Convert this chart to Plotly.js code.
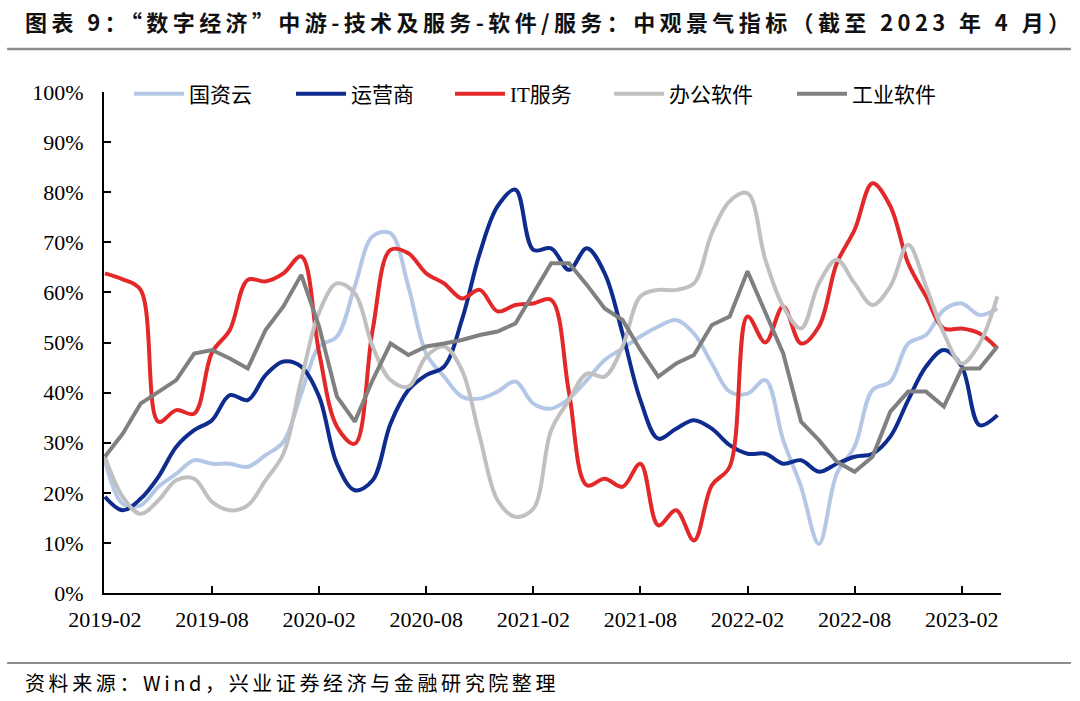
<!DOCTYPE html>
<html><head><meta charset="utf-8">
<script src="https://cdn.plot.ly/plotly-3.0.1.min.js"></script>
<style>
body{margin:0;background:#fff}#c{width:1080px;height:701px}
#c g.annotation[data-index="0"] text{letter-spacing:4.4px}
#c g.annotation[data-index="1"] text{letter-spacing:3.6px}
</style>
</head><body><div id="c"></div>
<script>
const months = ["2019-02","2019-03","2019-04","2019-05","2019-06","2019-07","2019-08","2019-09","2019-10","2019-11","2019-12","2020-01",
"2020-02","2020-03","2020-04","2020-05","2020-06","2020-07","2020-08","2020-09","2020-10","2020-11","2020-12","2021-01",
"2021-02","2021-03","2021-04","2021-05","2021-06","2021-07","2021-08","2021-09","2021-10","2021-11","2021-12","2022-01",
"2022-02","2022-03","2022-04","2022-05","2022-06","2022-07","2022-08","2022-09","2022-10","2022-11","2022-12","2023-01",
"2023-02","2023-03","2023-04"];
const tickLabels = ["2019-02","2019-08","2020-02","2020-08","2021-02","2021-08","2022-02","2022-08","2023-02"];
const guoziyun = [26.5,17.8,17.5,21.2,23.8,26.5,25.8,25.8,25.2,27.5,30.2,39.8,49.2,51.2,61.2,71.2,71.8,61.2,47.8,43.2,39.2,38.8,40.2,42.2,37.8,36.8,38.8,42.5,46.5,48.8,51.2,53.2,54.5,51.8,45.8,40.2,39.8,42.5,30.5,21.2,9.8,23.8,29.2,40.5,42.2,49.8,51.5,56.5,57.8,55.5,56.8];
const yunyingshang = [19.2,16.5,18.8,23.2,29.2,32.5,34.5,39.5,38.5,43.5,46.2,45.2,39.2,25.8,20.5,22.5,33.8,40.5,43.5,45.2,54.5,67.8,77.2,80.5,68.5,68.8,64.5,68.8,63.8,51.8,38.5,30.8,32.8,34.5,32.8,29.5,27.8,27.8,25.8,26.5,24.2,25.8,27.2,27.8,31.2,38.5,45.2,48.5,45.2,33.5,35.5];
const itService = [63.8,62.6,60.5,34.2,36.5,35.8,48,52.5,62.5,62.2,63.8,67.2,48,33.2,29.8,52.5,68.5,67.8,63.8,61.8,58.8,60.5,56.2,57.5,57.8,58.5,40,21.5,22.8,21.2,25.8,13.5,16.5,10.5,21.5,25.2,55.2,50,57.2,49.8,53.2,65.8,72.5,81.8,77.2,65.8,59.2,52.8,52.8,51.8,48.8];
const office = [27.2,19.2,15.8,18.5,22.5,22.8,18.2,16.5,17.5,22.5,27.8,42.5,56,61.8,59.8,49.2,42.5,41.2,47.2,49.2,44.5,31.2,18.5,15.2,16.8,32.5,38.5,43.8,43.2,49.2,59.2,60.5,60.5,61.8,71.8,78.2,79.8,66.5,57.2,52.8,61.8,66.5,61.8,57.5,61.2,69.5,61.2,51.8,45.8,49.8,59.2];
const industrial = [27.2,31.8,37.8,40.2,42.5,47.8,48.5,46.8,44.8,52.5,57.2,63.5,53.2,39.2,34.2,42.5,49.8,47.5,49.2,49.8,50.5,51.5,52.2,53.8,60,65.8,65.8,61.5,56.8,54.5,48.5,43.2,45.8,47.5,53.5,55.2,64.2,56,47.8,34.2,30.5,26.2,24.2,27.2,36.2,40.2,40.2,37.2,44.8,44.8,49.2];
const seriesNames = ["国资云","运营商","IT服务","办公软件","工业软件"];
const colors = ["#B4C7E7","#0E2C8E","#E3282A","#C0C0C0","#808080"];

const dataSets = [guoziyun, yunyingshang, itService, office, industrial];
const shapesLine = ["spline","spline","spline","spline","linear"];
const legendIds = ["legend","legend2","legend3","legend4","legend5"];
const legendX = [0.0279, 0.2085, 0.3857, 0.563, 0.767];

const traces = dataSets.map((d,k)=>({
  type:"scatter", mode:"lines", x: months, y: d, name: seriesNames[k], legend: legendIds[k],
  line:{color: colors[k], width: 4, shape: shapesLine[k], smoothing: 1}
}));

const layout = {
  width:1080, height:701, paper_bgcolor:"#fff", plot_bgcolor:"#fff",
  margin:{l:104, r:79, t:92, b:108},
  showlegend:true,
  xaxis:{type:"category", range:[-0.05,50.2], tickmode:"array", tickvals: tickLabels, ticktext: tickLabels,
    showline:true, linecolor:"#000", linewidth:2, ticks:"inside", ticklen:7, tickwidth:2, tickcolor:"#000",
    showgrid:false, zeroline:false, tickangle:0, ticklabelstandoff:6,
    tickfont:{family:"Liberation Serif", size:22, color:"#000"}},
  yaxis:{range:[0,100], dtick:10, ticksuffix:"%", showline:true, linecolor:"#000", linewidth:2,
    ticks:"inside", ticklen:7, tickwidth:2, tickcolor:"#000", showgrid:false, zeroline:false,
    ticklabelstandoff:14,
    tickfont:{family:"Liberation Serif", size:22, color:"#000"}},
  annotations:[
    {xref:"paper", yref:"paper", x:-0.0903, y:1.1417, xanchor:"left", yanchor:"middle", align:"left", showarrow:false,
     text:"<b>图表 9：“数字经济”中游-技术及服务-软件/服务：中观景气指标（截至 2023 年 4 月）</b>",
     font:{family:"Noto Sans CJK SC", size:22, color:"#111"}},
    {xref:"paper", yref:"paper", x:-0.0903, y:-0.1796, xanchor:"left", yanchor:"middle", align:"left", showarrow:false,
     text:"资料来源：Wind，兴业证券经济与金融研究院整理",
     font:{family:"Noto Sans CJK SC", size:20, color:"#000"}}
  ],
  shapes:[
    {type:"line", xref:"paper", yref:"paper", x0:-0.108, x1:1.078, y0:1.0858, y1:1.0858, line:{color:"#8c8c8c", width:2.5}},
    {type:"line", xref:"paper", yref:"paper", x0:-0.108, x1:1.078, y0:-0.1397, y1:-0.1397, line:{color:"#8c8c8c", width:2}}
  ]
};
legendIds.forEach((id,k)=>{
  layout[id] = {orientation:"h", x: legendX[k], xanchor:"left", y:0.996, yanchor:"middle",
    font:{family:"Liberation Serif, Noto Sans CJK SC", size:21, color:"#000"},
    itemwidth:50, bgcolor:"rgba(255,255,255,0)", borderwidth:0};
});
Plotly.newPlot("c", traces, layout, {displayModeBar:false, staticPlot:true});
</script></body></html>
